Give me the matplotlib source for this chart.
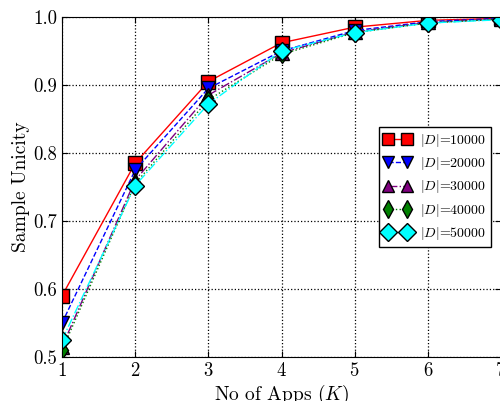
import numpy as np
import matplotlib
matplotlib.use('Agg')
import matplotlib.pyplot as plt

plt.rcParams['font.family'] = 'cmr10'
plt.rcParams['mathtext.fontset'] = 'cm'
plt.rcParams['axes.formatter.use_mathtext'] = True

# Number of apps
K = [1, 2, 3, 4, 5, 6, 7]

# Sample unicity per dataset size
u_10000 = [0.590, 0.785, 0.905, 0.962, 0.985, 0.995, 0.998]
u_20000 = [0.550, 0.775, 0.895, 0.950, 0.980, 0.993, 0.998]
u_30000 = [0.515, 0.760, 0.885, 0.947, 0.978, 0.992, 0.997]
u_40000 = [0.510, 0.755, 0.878, 0.945, 0.977, 0.991, 0.997]
u_50000 = [0.525, 0.752, 0.872, 0.950, 0.977, 0.991, 0.996]

labels = [r'$|D|$=10000', r'$|D|$=20000', r'$|D|$=30000', r'$|D|$=40000', r'$|D|$=50000']
series = [u_10000, u_20000, u_30000, u_40000, u_50000]
colors = ['red', 'blue', 'purple', 'green', 'cyan']
markers = ['s', 'v', '^', 'd', 'D']
styles = ['-', '--', '-.', ':', '-.']

fig = plt.figure(figsize=(5, 4.01), dpi=100)
ax = fig.add_axes([0.124, 0.1097, 0.878, 0.848])

for y, lab, c, m, ls in zip(series, labels, colors, markers, styles):
    ax.plot(K, y, color=c, marker=m, linestyle=ls, markersize=9.5,
            markeredgecolor='black', markeredgewidth=1, linewidth=1, label=lab)

ax.set_xlim(1, 7)
ax.set_ylim(0.5, 1.0)
ax.set_xticks(K)
ax.set_yticks([0.5, 0.6, 0.7, 0.8, 0.9, 1.0])
ax.set_yticklabels(['0.5', '0.6', '0.7', '0.8', '0.9', '1.0'])
ax.tick_params(direction='in', top=True, right=True, labelsize=13.5, length=4)
ax.grid(True, linestyle=':', color='black', linewidth=0.9)
ax.set_xlabel(r'No of Apps ($K$)', fontsize=14, labelpad=2)
ax.set_ylabel('Sample Unicity', fontsize=14, labelpad=2)

leg = ax.legend(loc='center right', bbox_to_anchor=(0.977, 0.5), numpoints=2,
                fancybox=False, framealpha=1, edgecolor='black', fontsize=10,
                handlelength=2.0, borderpad=0.35, labelspacing=0.45,
                borderaxespad=0, handletextpad=0.6, markerscale=0.95)
leg.get_frame().set_linewidth(1)

fig.savefig('out.png', dpi=100)
